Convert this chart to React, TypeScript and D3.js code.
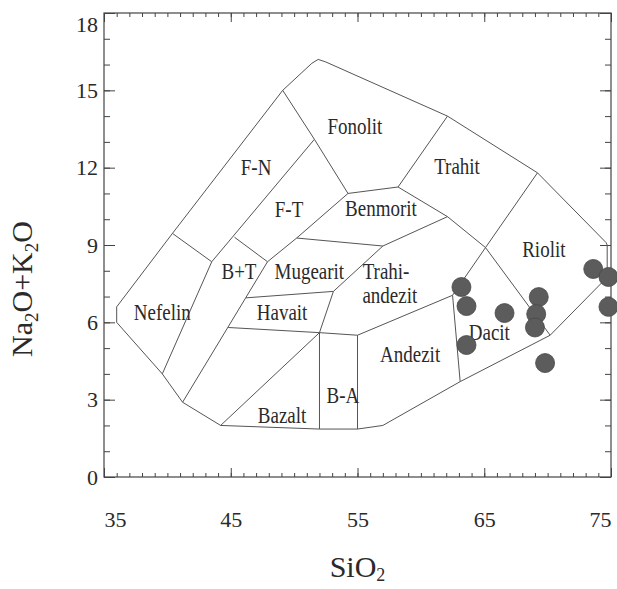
import React, { useEffect, useRef } from "react";
import * as d3 from "d3";

// axis ticks
const xTicks = [35, 45, 55, 65, 75];
const yTicks = [0, 3, 6, 9, 12, 15, 18];

// outer border of the classification fields (SiO2, Na2O+K2O)
const outline: [number, number][] = [
  [36.0, 6.6], [40.4, 9.45], [49.1, 15.0], [51.4, 16.05], [51.9, 16.2], [52.5, 16.1],
  [62.1, 14.0], [69.2, 11.8], [74.6, 9.1], [74.7, 9.0], [74.7, 7.75], [70.2, 5.5],
  [63.1, 3.7], [57.0, 2.0], [55.0, 1.86], [52.0, 1.86], [44.2, 2.0], [41.2, 2.9],
  [39.6, 4.0], [36.0, 6.0],
];

// inner field boundaries
const boundaries: [number, number][][] = [
  [[49.1, 15.0], [51.6, 13.1], [54.25, 11.0], [58.2, 11.25], [62.1, 14.0]],
  [[51.6, 13.1], [43.5, 8.35]],
  [[40.4, 9.45], [43.5, 8.35], [39.6, 4.0]],
  [[45.3, 9.3], [47.9, 8.35], [50.2, 9.27], [54.25, 11.0]],
  [[47.9, 8.35], [41.2, 2.9]],
  [[50.2, 9.27], [57.0, 8.96], [62.1, 10.1]],
  [[58.2, 11.25], [62.1, 10.1], [65.1, 8.9], [70.2, 5.5]],
  [[69.2, 11.8], [65.1, 8.9]],
  [[65.1, 8.9], [62.5, 7.05], [63.1, 3.7]],
  [[57.0, 8.96], [53.1, 7.2], [52.0, 5.6], [52.0, 1.86]],
  [[46.2, 6.95], [53.1, 7.2]],
  [[44.8, 5.8], [52.0, 5.6], [55.0, 5.5], [62.5, 7.05]],
  [[52.0, 5.6], [44.2, 2.0]],
  [[55.0, 5.5], [55.0, 1.86]],
];

// field names and where they sit
const fieldNames = ["Fonolit", "Trahit", "Benmorit", "F-N", "F-T", "B+T", "Mugearit", "Trahi-", "andezit",
  "Nefelin", "Havait", "Bazalt", "B-A", "Andezit", "Dacit", "Riolit"];
const fieldX = [54.8, 62.85, 56.85, 47.0, 49.6, 45.65, 51.2, 57.25, 57.55, 39.6, 49.05, 49.05, 53.85, 59.15, 65.4, 69.7];
const fieldY = [13.3, 11.75, 10.12, 11.7, 10.1, 7.7, 7.7, 7.7, 6.75, 6.1, 6.1, 2.1, 2.87, 4.46, 5.3, 8.53];

// samples
const sampleSiO2 = [63.2, 63.6, 66.6, 63.6, 69.3, 69.1, 69.0, 69.8, 73.6, 74.8, 74.8];
const sampleAlk = [7.37, 6.63, 6.36, 5.12, 6.98, 6.32, 5.8, 4.42, 8.07, 7.76, 6.6];

const font = "'Liberation Serif', 'Times New Roman', serif";

export default function App() {
  const ref = useRef<SVGSVGElement>(null);

  useEffect(() => {
    const svg = d3.select(ref.current);
    svg.selectAll("*").remove();

    const x = d3.scaleLinear().domain([35, 75]).range([104, 611]);
    const y = d3.scaleLinear().domain([0, 18]).range([477, 13]);
    const minorX = d3.range(35, 76);
    const minorY = d3.range(0, 19);

    const styleAxis = (g: any) => {
      g.select(".domain").remove();
      g.selectAll("line").attr("stroke", "#444").attr("stroke-width", 1);
      g.selectAll("text").attr("font-family", font).attr("font-size", 22).attr("fill", "#2a2a2a");
    };
    const noLabel = () => "";

    // bottom
    svg.append("g").attr("transform", `translate(0,${y(0)})`)
      .call(d3.axisBottom(x).tickValues(minorX).tickSize(-4).tickFormat(noLabel)).call(styleAxis);
    const xAxis = svg.append("g").attr("transform", `translate(0,${y(0)})`)
      .call(d3.axisBottom(x).tickValues(xTicks).tickSize(-9).tickPadding(34)).call(styleAxis);
    xAxis.selectAll("text").attr("text-anchor", (d: any) => d === 35 ? "start" : d === 75 ? "end" : "middle");

    // top
    svg.append("g").attr("transform", `translate(0,${y(18)})`)
      .call(d3.axisTop(x).tickValues(minorX).tickSize(-4).tickFormat(noLabel)).call(styleAxis);
    svg.append("g").attr("transform", `translate(0,${y(18)})`)
      .call(d3.axisTop(x).tickValues(xTicks).tickSize(-9).tickFormat(noLabel)).call(styleAxis);

    // left
    svg.append("g").attr("transform", `translate(${x(35)},0)`)
      .call(d3.axisLeft(y).tickValues(minorY).tickSize(-6).tickFormat(noLabel)).call(styleAxis);
    const yAxis = svg.append("g").attr("transform", `translate(${x(35)},0)`)
      .call(d3.axisLeft(y).tickValues(yTicks).tickSize(-11).tickPadding(6)).call(styleAxis);
    // the top label sits a little below its tick in the original
    yAxis.selectAll("text").filter((d: any) => d === 18).attr("dy", "0.85em");

    // right
    svg.append("g").attr("transform", `translate(${x(75)},0)`)
      .call(d3.axisRight(y).tickValues(minorY).tickSize(-6).tickFormat(noLabel)).call(styleAxis);
    svg.append("g").attr("transform", `translate(${x(75)},0)`)
      .call(d3.axisRight(y).tickValues(yTicks).tickSize(-11).tickFormat(noLabel)).call(styleAxis);

    // frame
    svg.append("rect")
      .attr("x", x(35)).attr("y", y(18))
      .attr("width", x(75) - x(35)).attr("height", y(0) - y(18))
      .attr("fill", "none").attr("stroke", "#444").attr("stroke-width", 1.2);

    const line = d3.line<[number, number]>().x(d => x(d[0])).y(d => y(d[1]));

    svg.append("path")
      .attr("d", line(outline) + "Z")
      .attr("fill", "none").attr("stroke", "#555").attr("stroke-width", 1);

    svg.selectAll("path.bound")
      .data(boundaries)
      .join("path")
      .attr("class", "bound")
      .attr("d", d => line(d))
      .attr("fill", "none").attr("stroke", "#555").attr("stroke-width", 1);

    // scanned lettering is a bit taller than it is wide
    svg.selectAll("text.field")
      .data(fieldNames)
      .join("text")
      .attr("class", "field")
      .attr("transform", (d, i) => `translate(${x(fieldX[i])},${y(fieldY[i])}) scale(1,1.18)`)
      .attr("text-anchor", "middle")
      .attr("font-family", font)
      .attr("font-size", 19)
      .attr("fill", "#2a2a2a")
      .text(d => d);

    svg.selectAll("circle")
      .data(sampleSiO2)
      .join("circle")
      .attr("cx", d => x(d))
      .attr("cy", (d, i) => y(sampleAlk[i]))
      .attr("r", 9.5)
      .attr("fill", "#5c5c5c")
      .attr("stroke", "#484848")
      .attr("stroke-width", 0.8);

    // axis titles
    const yt = svg.append("text")
      .attr("transform", `translate(32, 289) rotate(-90)`)
      .attr("text-anchor", "middle")
      .attr("font-family", font)
      .attr("font-size", 30)
      .attr("fill", "#2a2a2a");
    yt.append("tspan").text("Na");
    yt.append("tspan").attr("font-size", 19).attr("dy", 6).text("2");
    yt.append("tspan").attr("dy", -6).text("O+K");
    yt.append("tspan").attr("font-size", 19).attr("dy", 6).text("2");
    yt.append("tspan").attr("dy", -6).text("O");

    const xt = svg.append("text")
      .attr("x", x(55)).attr("y", 577)
      .attr("text-anchor", "middle")
      .attr("font-family", font)
      .attr("font-size", 30)
      .attr("fill", "#2a2a2a");
    xt.append("tspan").text("SiO");
    xt.append("tspan").attr("font-size", 18).attr("dy", 4).text("2");
  }, []);

  return (
    <svg ref={ref} width={617} height={589}
      style={{ position: "absolute", left: 0, top: 0, background: "#fff" }} />
  );
}
